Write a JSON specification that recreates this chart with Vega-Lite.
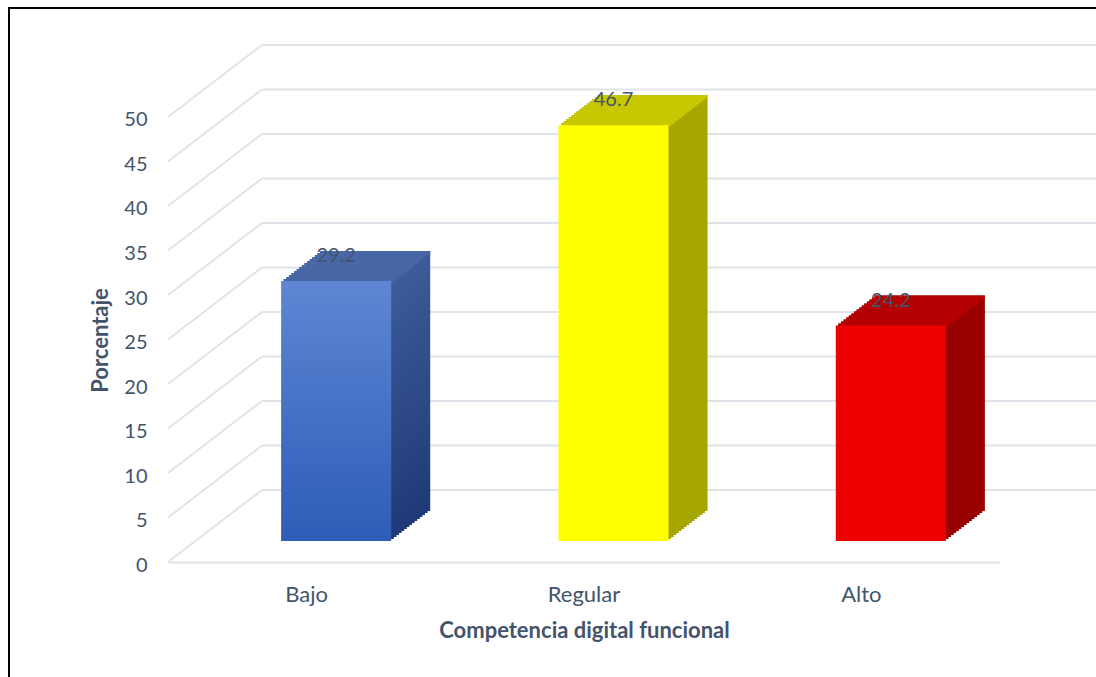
{
  "$schema": "https://vega.github.io/schema/vega-lite/v6.json",
  "width": 1100,
  "height": 680,
  "autosize": {"type": "none"},
  "padding": {"left": 9, "top": 8, "right": -13, "bottom": -11},
  "background": "white",
  "config": {"font": "Lato", "view": {"stroke": "#000000", "strokeWidth": 2}},
  "datasets": {
    "niveles": [
      {"nivel": "Bajo", "porcentaje": 29.2},
      {"nivel": "Regular", "porcentaje": 46.7},
      {"nivel": "Alto", "porcentaje": 24.2}
    ],
    "grid": [
      {"v": 0}, {"v": 5}, {"v": 10}, {"v": 15}, {"v": 20}, {"v": 25},
      {"v": 30}, {"v": 35}, {"v": 40}, {"v": 45}, {"v": 50}
    ]
  },
  "resolve": {"scale": {"x": "independent"}, "axis": {"x": "independent", "y": "shared"}},
  "layer": [
    {
      "data": {"name": "grid"},
      "mark": {"type": "rule", "yOffset": -72, "color": "#e0e4ea", "strokeWidth": 2},
      "encoding": {
        "x": {"datum": 1, "type": "quantitative", "scale": {"domain": [0, 1], "range": [159, 253]}, "axis": null},
        "x2": {"value": {"expr": "width"}},
        "y": {"field": "v", "type": "quantitative", "scale": {"domain": [-14.157, 62.247], "nice": false, "zero": false},
          "axis": {"values": [0, 5, 10, 15, 20, 25, 30, 35, 40, 45, 50], "domain": false, "ticks": false, "tickSize": 0, "grid": false, "labelPadding": -138, "labelOffset": 3, "labelFontSize": 20, "labelColor": "#44546A", "title": "Porcentaje", "titleX": 98, "titleY": 332, "titleAngle": -90, "titleBaseline": "alphabetic", "titleFontSize": 22, "titleFontWeight": "bold", "titleColor": "#44546A"}}
      }
    },
    {
      "data": {"name": "grid"},
      "mark": {"type": "rule", "y2Offset": -72, "color": "#e0e4ea", "strokeWidth": 2},
      "encoding": {
        "x": {"datum": 0, "type": "quantitative", "scale": {"domain": [0, 1], "range": [159, 253]}, "axis": null},
        "x2": {"datum": 1},
        "y": {"field": "v", "type": "quantitative"},
        "y2": {"field": "v"}
      }
    },
    {
      "data": {"name": "niveles"},
      "mark": {"type": "bar", "xOffset": 29.5, "x2Offset": 29.5, "yOffset": -21, "y2Offset": -21, "opacity": 0},
      "encoding": {
        "x": {"field": "nivel", "type": "nominal", "sort": ["Bajo", "Regular", "Alto"], "scale": {"range": [159, 991], "paddingInner": 0.603, "paddingOuter": 0.3015},
          "axis": {"orient": "bottom", "offset": -126, "domain": true, "domainColor": "#e0e4ea", "domainWidth": 2, "ticks": false, "tickSize": 0, "labelPadding": 39, "labelBaseline": "alphabetic", "labelFontSize": 22, "labelColor": "#44546A", "labelAngle": 0, "title": "Competencia digital funcional", "titleX": 575, "titleY": 75, "titleBaseline": "alphabetic", "titleFontSize": 22, "titleFontWeight": "bold", "titleColor": "#44546A"}},
        "y": {"field": "porcentaje", "type": "quantitative"},
        "y2": {"datum": 0}
      }
    },
    {
      "data": {"name": "niveles"},
      "layer": [
        {"mark": {"type": "bar", "xOffset": 68.5, "x2Offset": 68.5, "yOffset": -51, "y2Offset": -51}, "encoding": {"y2": {"datum": 0}, "color": {"condition": [{"test": "datum.nivel === 'Bajo'", "value": {"gradient": "linear", "x1": 0, "y1": 0, "x2": 0, "y2": 1, "stops": [{"offset": 0, "color": "#3E5B9A"}, {"offset": 1, "color": "#1E3A76"}]}}, {"test": "datum.nivel === 'Regular'", "value": "#A6A600"}], "value": "#990000"}}},
        {"mark": {"type": "bar", "xOffset": 65.9, "x2Offset": 65.9, "yOffset": -49, "y2Offset": -49}, "encoding": {"y2": {"datum": 0}, "color": {"condition": [{"test": "datum.nivel === 'Bajo'", "value": {"gradient": "linear", "x1": 0, "y1": 0, "x2": 0, "y2": 1, "stops": [{"offset": 0, "color": "#3E5B9A"}, {"offset": 1, "color": "#1E3A76"}]}}, {"test": "datum.nivel === 'Regular'", "value": "#A6A600"}], "value": "#990000"}}},
        {"mark": {"type": "bar", "xOffset": 63.3, "x2Offset": 63.3, "yOffset": -47, "y2Offset": -47}, "encoding": {"y2": {"datum": 0}, "color": {"condition": [{"test": "datum.nivel === 'Bajo'", "value": {"gradient": "linear", "x1": 0, "y1": 0, "x2": 0, "y2": 1, "stops": [{"offset": 0, "color": "#3E5B9A"}, {"offset": 1, "color": "#1E3A76"}]}}, {"test": "datum.nivel === 'Regular'", "value": "#A6A600"}], "value": "#990000"}}},
        {"mark": {"type": "bar", "xOffset": 60.7, "x2Offset": 60.7, "yOffset": -45, "y2Offset": -45}, "encoding": {"y2": {"datum": 0}, "color": {"condition": [{"test": "datum.nivel === 'Bajo'", "value": {"gradient": "linear", "x1": 0, "y1": 0, "x2": 0, "y2": 1, "stops": [{"offset": 0, "color": "#3E5B9A"}, {"offset": 1, "color": "#1E3A76"}]}}, {"test": "datum.nivel === 'Regular'", "value": "#A6A600"}], "value": "#990000"}}},
        {"mark": {"type": "bar", "xOffset": 58.1, "x2Offset": 58.1, "yOffset": -43, "y2Offset": -43}, "encoding": {"y2": {"datum": 0}, "color": {"condition": [{"test": "datum.nivel === 'Bajo'", "value": {"gradient": "linear", "x1": 0, "y1": 0, "x2": 0, "y2": 1, "stops": [{"offset": 0, "color": "#3E5B9A"}, {"offset": 1, "color": "#1E3A76"}]}}, {"test": "datum.nivel === 'Regular'", "value": "#A6A600"}], "value": "#990000"}}},
        {"mark": {"type": "bar", "xOffset": 55.5, "x2Offset": 55.5, "yOffset": -41, "y2Offset": -41}, "encoding": {"y2": {"datum": 0}, "color": {"condition": [{"test": "datum.nivel === 'Bajo'", "value": {"gradient": "linear", "x1": 0, "y1": 0, "x2": 0, "y2": 1, "stops": [{"offset": 0, "color": "#3E5B9A"}, {"offset": 1, "color": "#1E3A76"}]}}, {"test": "datum.nivel === 'Regular'", "value": "#A6A600"}], "value": "#990000"}}},
        {"mark": {"type": "bar", "xOffset": 52.9, "x2Offset": 52.9, "yOffset": -39, "y2Offset": -39}, "encoding": {"y2": {"datum": 0}, "color": {"condition": [{"test": "datum.nivel === 'Bajo'", "value": {"gradient": "linear", "x1": 0, "y1": 0, "x2": 0, "y2": 1, "stops": [{"offset": 0, "color": "#3E5B9A"}, {"offset": 1, "color": "#1E3A76"}]}}, {"test": "datum.nivel === 'Regular'", "value": "#A6A600"}], "value": "#990000"}}},
        {"mark": {"type": "bar", "xOffset": 50.3, "x2Offset": 50.3, "yOffset": -37, "y2Offset": -37}, "encoding": {"y2": {"datum": 0}, "color": {"condition": [{"test": "datum.nivel === 'Bajo'", "value": {"gradient": "linear", "x1": 0, "y1": 0, "x2": 0, "y2": 1, "stops": [{"offset": 0, "color": "#3E5B9A"}, {"offset": 1, "color": "#1E3A76"}]}}, {"test": "datum.nivel === 'Regular'", "value": "#A6A600"}], "value": "#990000"}}},
        {"mark": {"type": "bar", "xOffset": 47.7, "x2Offset": 47.7, "yOffset": -35, "y2Offset": -35}, "encoding": {"y2": {"datum": 0}, "color": {"condition": [{"test": "datum.nivel === 'Bajo'", "value": {"gradient": "linear", "x1": 0, "y1": 0, "x2": 0, "y2": 1, "stops": [{"offset": 0, "color": "#3E5B9A"}, {"offset": 1, "color": "#1E3A76"}]}}, {"test": "datum.nivel === 'Regular'", "value": "#A6A600"}], "value": "#990000"}}},
        {"mark": {"type": "bar", "xOffset": 45.1, "x2Offset": 45.1, "yOffset": -33, "y2Offset": -33}, "encoding": {"y2": {"datum": 0}, "color": {"condition": [{"test": "datum.nivel === 'Bajo'", "value": {"gradient": "linear", "x1": 0, "y1": 0, "x2": 0, "y2": 1, "stops": [{"offset": 0, "color": "#3E5B9A"}, {"offset": 1, "color": "#1E3A76"}]}}, {"test": "datum.nivel === 'Regular'", "value": "#A6A600"}], "value": "#990000"}}},
        {"mark": {"type": "bar", "xOffset": 42.5, "x2Offset": 42.5, "yOffset": -31, "y2Offset": -31}, "encoding": {"y2": {"datum": 0}, "color": {"condition": [{"test": "datum.nivel === 'Bajo'", "value": {"gradient": "linear", "x1": 0, "y1": 0, "x2": 0, "y2": 1, "stops": [{"offset": 0, "color": "#3E5B9A"}, {"offset": 1, "color": "#1E3A76"}]}}, {"test": "datum.nivel === 'Regular'", "value": "#A6A600"}], "value": "#990000"}}},
        {"mark": {"type": "bar", "xOffset": 39.9, "x2Offset": 39.9, "yOffset": -29, "y2Offset": -29}, "encoding": {"y2": {"datum": 0}, "color": {"condition": [{"test": "datum.nivel === 'Bajo'", "value": {"gradient": "linear", "x1": 0, "y1": 0, "x2": 0, "y2": 1, "stops": [{"offset": 0, "color": "#3E5B9A"}, {"offset": 1, "color": "#1E3A76"}]}}, {"test": "datum.nivel === 'Regular'", "value": "#A6A600"}], "value": "#990000"}}},
        {"mark": {"type": "bar", "xOffset": 37.3, "x2Offset": 37.3, "yOffset": -27, "y2Offset": -27}, "encoding": {"y2": {"datum": 0}, "color": {"condition": [{"test": "datum.nivel === 'Bajo'", "value": {"gradient": "linear", "x1": 0, "y1": 0, "x2": 0, "y2": 1, "stops": [{"offset": 0, "color": "#3E5B9A"}, {"offset": 1, "color": "#1E3A76"}]}}, {"test": "datum.nivel === 'Regular'", "value": "#A6A600"}], "value": "#990000"}}},
        {"mark": {"type": "bar", "xOffset": 34.7, "x2Offset": 34.7, "yOffset": -25, "y2Offset": -25}, "encoding": {"y2": {"datum": 0}, "color": {"condition": [{"test": "datum.nivel === 'Bajo'", "value": {"gradient": "linear", "x1": 0, "y1": 0, "x2": 0, "y2": 1, "stops": [{"offset": 0, "color": "#3E5B9A"}, {"offset": 1, "color": "#1E3A76"}]}}, {"test": "datum.nivel === 'Regular'", "value": "#A6A600"}], "value": "#990000"}}},
        {"mark": {"type": "bar", "xOffset": 32.1, "x2Offset": 32.1, "yOffset": -23, "y2Offset": -23}, "encoding": {"y2": {"datum": 0}, "color": {"condition": [{"test": "datum.nivel === 'Bajo'", "value": {"gradient": "linear", "x1": 0, "y1": 0, "x2": 0, "y2": 1, "stops": [{"offset": 0, "color": "#3E5B9A"}, {"offset": 1, "color": "#1E3A76"}]}}, {"test": "datum.nivel === 'Regular'", "value": "#A6A600"}], "value": "#990000"}}},

        {"mark": {"type": "bar", "xOffset": 68.5, "x2Offset": 68.5, "yOffset": -51, "y2Offset": -48}, "encoding": {"y2": {"field": "porcentaje"}, "color": {"condition": [{"test": "datum.nivel === 'Bajo'", "value": "#4967A7"}, {"test": "datum.nivel === 'Regular'", "value": "#C8C800"}], "value": "#B40000"}}},
        {"mark": {"type": "bar", "xOffset": 65.9, "x2Offset": 65.9, "yOffset": -49, "y2Offset": -46}, "encoding": {"y2": {"field": "porcentaje"}, "color": {"condition": [{"test": "datum.nivel === 'Bajo'", "value": "#4967A7"}, {"test": "datum.nivel === 'Regular'", "value": "#C8C800"}], "value": "#B40000"}}},
        {"mark": {"type": "bar", "xOffset": 63.3, "x2Offset": 63.3, "yOffset": -47, "y2Offset": -44}, "encoding": {"y2": {"field": "porcentaje"}, "color": {"condition": [{"test": "datum.nivel === 'Bajo'", "value": "#4967A7"}, {"test": "datum.nivel === 'Regular'", "value": "#C8C800"}], "value": "#B40000"}}},
        {"mark": {"type": "bar", "xOffset": 60.7, "x2Offset": 60.7, "yOffset": -45, "y2Offset": -42}, "encoding": {"y2": {"field": "porcentaje"}, "color": {"condition": [{"test": "datum.nivel === 'Bajo'", "value": "#4967A7"}, {"test": "datum.nivel === 'Regular'", "value": "#C8C800"}], "value": "#B40000"}}},
        {"mark": {"type": "bar", "xOffset": 58.1, "x2Offset": 58.1, "yOffset": -43, "y2Offset": -40}, "encoding": {"y2": {"field": "porcentaje"}, "color": {"condition": [{"test": "datum.nivel === 'Bajo'", "value": "#4967A7"}, {"test": "datum.nivel === 'Regular'", "value": "#C8C800"}], "value": "#B40000"}}},
        {"mark": {"type": "bar", "xOffset": 55.5, "x2Offset": 55.5, "yOffset": -41, "y2Offset": -38}, "encoding": {"y2": {"field": "porcentaje"}, "color": {"condition": [{"test": "datum.nivel === 'Bajo'", "value": "#4967A7"}, {"test": "datum.nivel === 'Regular'", "value": "#C8C800"}], "value": "#B40000"}}},
        {"mark": {"type": "bar", "xOffset": 52.9, "x2Offset": 52.9, "yOffset": -39, "y2Offset": -36}, "encoding": {"y2": {"field": "porcentaje"}, "color": {"condition": [{"test": "datum.nivel === 'Bajo'", "value": "#4967A7"}, {"test": "datum.nivel === 'Regular'", "value": "#C8C800"}], "value": "#B40000"}}},
        {"mark": {"type": "bar", "xOffset": 50.3, "x2Offset": 50.3, "yOffset": -37, "y2Offset": -34}, "encoding": {"y2": {"field": "porcentaje"}, "color": {"condition": [{"test": "datum.nivel === 'Bajo'", "value": "#4967A7"}, {"test": "datum.nivel === 'Regular'", "value": "#C8C800"}], "value": "#B40000"}}},
        {"mark": {"type": "bar", "xOffset": 47.7, "x2Offset": 47.7, "yOffset": -35, "y2Offset": -32}, "encoding": {"y2": {"field": "porcentaje"}, "color": {"condition": [{"test": "datum.nivel === 'Bajo'", "value": "#4967A7"}, {"test": "datum.nivel === 'Regular'", "value": "#C8C800"}], "value": "#B40000"}}},
        {"mark": {"type": "bar", "xOffset": 45.1, "x2Offset": 45.1, "yOffset": -33, "y2Offset": -30}, "encoding": {"y2": {"field": "porcentaje"}, "color": {"condition": [{"test": "datum.nivel === 'Bajo'", "value": "#4967A7"}, {"test": "datum.nivel === 'Regular'", "value": "#C8C800"}], "value": "#B40000"}}},
        {"mark": {"type": "bar", "xOffset": 42.5, "x2Offset": 42.5, "yOffset": -31, "y2Offset": -28}, "encoding": {"y2": {"field": "porcentaje"}, "color": {"condition": [{"test": "datum.nivel === 'Bajo'", "value": "#4967A7"}, {"test": "datum.nivel === 'Regular'", "value": "#C8C800"}], "value": "#B40000"}}},
        {"mark": {"type": "bar", "xOffset": 39.9, "x2Offset": 39.9, "yOffset": -29, "y2Offset": -26}, "encoding": {"y2": {"field": "porcentaje"}, "color": {"condition": [{"test": "datum.nivel === 'Bajo'", "value": "#4967A7"}, {"test": "datum.nivel === 'Regular'", "value": "#C8C800"}], "value": "#B40000"}}},
        {"mark": {"type": "bar", "xOffset": 37.3, "x2Offset": 37.3, "yOffset": -27, "y2Offset": -24}, "encoding": {"y2": {"field": "porcentaje"}, "color": {"condition": [{"test": "datum.nivel === 'Bajo'", "value": "#4967A7"}, {"test": "datum.nivel === 'Regular'", "value": "#C8C800"}], "value": "#B40000"}}},
        {"mark": {"type": "bar", "xOffset": 34.7, "x2Offset": 34.7, "yOffset": -25, "y2Offset": -22}, "encoding": {"y2": {"field": "porcentaje"}, "color": {"condition": [{"test": "datum.nivel === 'Bajo'", "value": "#4967A7"}, {"test": "datum.nivel === 'Regular'", "value": "#C8C800"}], "value": "#B40000"}}},
        {"mark": {"type": "bar", "xOffset": 32.1, "x2Offset": 32.1, "yOffset": -23, "y2Offset": -20}, "encoding": {"y2": {"field": "porcentaje"}, "color": {"condition": [{"test": "datum.nivel === 'Bajo'", "value": "#4967A7"}, {"test": "datum.nivel === 'Regular'", "value": "#C8C800"}], "value": "#B40000"}}},

        {
          "mark": {"type": "bar", "xOffset": 29.5, "x2Offset": 29.5, "yOffset": -21, "y2Offset": -21},
          "encoding": {
            "y2": {"datum": 0},
            "color": {"condition": [{"test": "datum.nivel === 'Bajo'", "value": {"gradient": "linear", "x1": 0, "y1": 0, "x2": 0, "y2": 1, "stops": [{"offset": 0, "color": "#5E86D4"}, {"offset": 1, "color": "#2D5DB7"}]}}, {"test": "datum.nivel === 'Regular'", "value": "#FFFF00"}], "value": "#EC0000"}
          }
        },
        {
          "mark": {"type": "text", "xOffset": 29.5, "yOffset": -40, "baseline": "alphabetic", "fontSize": 20, "color": "#44546A"},
          "encoding": {"text": {"field": "porcentaje", "type": "quantitative", "format": ".1f"}}
        }
      ],
      "encoding": {
        "x": {"field": "nivel", "type": "nominal", "sort": ["Bajo", "Regular", "Alto"], "scale": {"range": [159, 991], "paddingInner": 0.603, "paddingOuter": 0.3015}, "axis": null},
        "y": {"field": "porcentaje", "type": "quantitative"}
      }
    }
  ]
}
